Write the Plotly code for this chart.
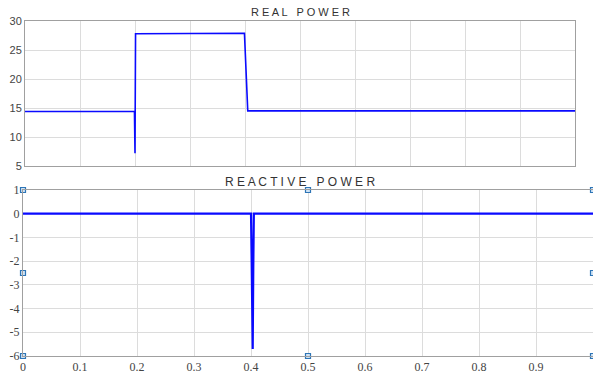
import plotly.graph_objects as go

# Real power (top)
t_real = [0.0, 0.199, 0.2, 0.2005, 0.201, 0.399, 0.402, 0.405, 1.0]
p_real = [14.4, 14.4, 7.2, 27.6, 27.8, 27.9, 20.0, 14.5, 14.5]

# Reactive power (bottom)
t_reac = [0.0, 0.4, 0.401, 0.402, 0.403, 0.404, 0.405, 1.0]
q_reac = [0.0, 0.0, -1.7, -4.4, -5.7, -2.3, 0.0, 0.0]

# Selection handle markers (bottom panel)
h_x = [0, 0, 0, 0.5, 0.5, 1, 1, 1]
h_y = [1, -2.5, -6, 1, -6, 1, -2.5, -6]

top_yticks = [5, 10, 15, 20, 25, 30]
bot_xticks = [0, 0.1, 0.2, 0.3, 0.4, 0.5, 0.6, 0.7, 0.8, 0.9]
bot_yticks = [1, 0, -1, -2, -3, -4, -5, -6]
bot_ytext = ["1", "0", "-1", "-2", "-3", "-4", "-5", "-6"]

W, H = 593, 377
fig = go.Figure()
fig.add_trace(go.Scatter(x=t_real, y=p_real, mode="lines",
                         line=dict(color="#0a0aff", width=1.6), xaxis="x", yaxis="y",
                         showlegend=False))
fig.add_trace(go.Scatter(x=t_reac, y=q_reac, mode="lines",
                         line=dict(color="#0a0aff", width=2.2), xaxis="x2", yaxis="y2",
                         showlegend=False))
fig.add_trace(go.Scatter(x=h_x, y=h_y, mode="markers", cliponaxis=False,
                         marker=dict(symbol="square", size=5, color="#cfe3f5",
                                     line=dict(color="#2e75b6", width=1.2)),
                         xaxis="x2", yaxis="y2", showlegend=False))

grid = "#dcdcdc"
axline = "#a0a0a0"
fig.update_layout(
    width=W, height=H, margin=dict(l=0, r=0, t=0, b=0),
    paper_bgcolor="white", plot_bgcolor="white",
    xaxis=dict(domain=[25 / W, 575 / W], range=[0, 1], dtick=0.1, automargin=False,
               showticklabels=False, showgrid=True, gridcolor=grid,
               showline=True, mirror=True, linecolor=axline, zeroline=False),
    yaxis=dict(domain=[1 - 166 / H, 1 - 21 / H], range=[5, 30], tickvals=top_yticks,
               automargin=False,
               showgrid=True, gridcolor=grid, showline=True, mirror=True,
               linecolor=axline, zeroline=False, ticks="",
               tickfont=dict(family="Liberation Sans, Arial", size=11, color="#444")),
    xaxis2=dict(domain=[23 / W, 1.0], range=[0, 1], tickvals=bot_xticks, automargin=False,
                showgrid=True, gridcolor=grid, showline=True, mirror=True,
                linecolor=axline, zeroline=False, ticks="", anchor="y2",
                tickfont=dict(family="Liberation Serif, Times New Roman", size=12, color="#444")),
    yaxis2=dict(domain=[1 - 356 / H, 1 - 190 / H], range=[-6, 1], tickvals=bot_yticks,
                ticktext=bot_ytext, automargin=False,
                showgrid=True, gridcolor=grid, showline=True, mirror=True,
                linecolor=axline, zeroline=False, ticks="", anchor="x2",
                tickfont=dict(family="Liberation Serif, Times New Roman", size=12, color="#444")),
    annotations=[
        dict(text="R E A L   P O W E R", x=300 / W, y=1 - 12 / H, xref="paper", yref="paper",
             yanchor="middle", showarrow=False,
             font=dict(family="Liberation Sans, Arial", size=11, color="#333")),
        dict(text="R E A C T I V E   P O W E R", x=300 / W, y=1 - 182 / H, xref="paper",
             yref="paper", yanchor="middle", showarrow=False,
             font=dict(family="Liberation Sans, Arial", size=12, color="#333")),
    ],
)
fig.write_html("out.html")
